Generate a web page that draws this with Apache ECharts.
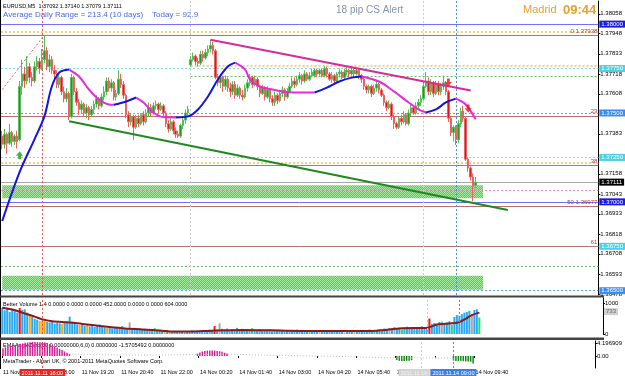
<!DOCTYPE html>
<html>
<head>
<meta charset="utf-8">
<script src="https://cdn.jsdelivr.net/npm/echarts@6/dist/echarts.min.js"></script>
<style>
html, body { margin: 0; padding: 0; background: #fff; }
#main { width: 625px; height: 376px; }
</style>
</head>
<body>
<div id="main"></div>
<script>
var chart = echarts.init(document.getElementById('main'));
var FONT = '"Liberation Sans", Arial, sans-serif';

// time axis: one label every 16 M5 bars
var timeLabels = ['11 Nov 16:40', '11 Nov 18:00', '11 Nov 19:20', '11 Nov 20:40', '11 Nov 22:00',
    '14 Nov 00:20', '14 Nov 01:40', '14 Nov 03:00', '14 Nov 04:20', '14 Nov 05:40',
    '14 Nov 07:00', '14 Nov 08:20', '14 Nov 09:40'];
var barsPerLabel = 16;
var totalSlots = 241;   // bars + empty chart shift on the right

// [open, close, low, high]
var candles = [
    [1.37369,1.37324,1.37296,1.37400],[1.37324,1.37380,1.37300,1.37410],[1.37380,1.37330,1.37270,1.37390],
    [1.37330,1.37390,1.37320,1.37440],[1.37390,1.37340,1.37310,1.37400],[1.37340,1.37370,1.37320,1.37380],
    [1.37370,1.37340,1.37300,1.37400],[1.37350,1.37650,1.37340,1.37680],[1.37650,1.37720,1.37600,1.37800],
    [1.37720,1.37680,1.37640,1.37760],[1.37680,1.37760,1.37660,1.37820],[1.37760,1.37700,1.37670,1.37780],
    [1.37700,1.37680,1.37650,1.37730],[1.37680,1.37760,1.37670,1.37790],[1.37760,1.37790,1.37740,1.37820],
    [1.37790,1.37750,1.37720,1.37810],[1.37750,1.37800,1.37740,1.37860],[1.37800,1.37850,1.37780,1.37938],
    [1.37850,1.37760,1.37740,1.37870],[1.37760,1.37800,1.37730,1.37830],[1.37800,1.37740,1.37720,1.37820],
    [1.37740,1.37720,1.37690,1.37770],[1.37720,1.37660,1.37640,1.37740],[1.37660,1.37700,1.37640,1.37720],
    [1.37700,1.37620,1.37600,1.37710],[1.37620,1.37580,1.37560,1.37650],[1.37580,1.37610,1.37560,1.37640],
    [1.37610,1.37480,1.37460,1.37620],[1.37480,1.37700,1.37470,1.37720],[1.37700,1.37620,1.37600,1.37710],
    [1.37620,1.37560,1.37540,1.37640],[1.37560,1.37520,1.37490,1.37580],[1.37520,1.37550,1.37500,1.37570],
    [1.37550,1.37500,1.37480,1.37560],[1.37500,1.37530,1.37470,1.37550],[1.37530,1.37490,1.37460,1.37540],
    [1.37490,1.37520,1.37480,1.37540],[1.37520,1.37550,1.37500,1.37570],[1.37550,1.37580,1.37530,1.37600],
    [1.37580,1.37540,1.37520,1.37590],[1.37540,1.37590,1.37530,1.37610],[1.37590,1.37620,1.37570,1.37650],
    [1.37620,1.37680,1.37600,1.37700],[1.37680,1.37640,1.37620,1.37700],[1.37640,1.37670,1.37620,1.37690],
    [1.37670,1.37590,1.37570,1.37680],[1.37590,1.37610,1.37570,1.37630],[1.37610,1.37690,1.37600,1.37740],
    [1.37690,1.37660,1.37640,1.37720],[1.37660,1.37600,1.37580,1.37680],[1.37600,1.37490,1.37470,1.37610],
    [1.37490,1.37450,1.37420,1.37510],[1.37450,1.37480,1.37430,1.37500],[1.37480,1.37420,1.37350,1.37490],
    [1.37420,1.37470,1.37410,1.37490],[1.37470,1.37440,1.37420,1.37490],[1.37440,1.37490,1.37430,1.37500],
    [1.37490,1.37450,1.37430,1.37510],[1.37450,1.37500,1.37440,1.37520],[1.37500,1.37530,1.37480,1.37560],
    [1.37530,1.37500,1.37480,1.37550],[1.37500,1.37540,1.37490,1.37560],[1.37540,1.37550,1.37520,1.37570],
    [1.37550,1.37520,1.37500,1.37560],[1.37520,1.37540,1.37510,1.37560],[1.37540,1.37500,1.37480,1.37550],
    [1.37500,1.37440,1.37420,1.37510],[1.37440,1.37410,1.37390,1.37460],[1.37410,1.37450,1.37400,1.37470],
    [1.37450,1.37400,1.37380,1.37460],[1.37400,1.37380,1.37360,1.37420],[1.37380,1.37370,1.37360,1.37400],
    [1.37370,1.37430,1.37360,1.37440],[1.37430,1.37460,1.37410,1.37480],[1.37460,1.37500,1.37440,1.37520],
    [1.37500,1.37520,1.37480,1.37540],
    // Monday open
    [1.37770,1.37800,1.37760,1.37820],[1.37800,1.37820,1.37790,1.37840],[1.37820,1.37790,1.37770,1.37830],
    [1.37790,1.37780,1.37760,1.37810],[1.37780,1.37830,1.37770,1.37850],[1.37830,1.37810,1.37790,1.37850],
    [1.37810,1.37840,1.37800,1.37860],[1.37840,1.37860,1.37820,1.37880],[1.37860,1.37880,1.37840,1.37910],
    [1.37880,1.37850,1.37830,1.37900],[1.37850,1.37700,1.37690,1.37860],[1.37700,1.37670,1.37650,1.37720],
    [1.37670,1.37700,1.37640,1.37720],[1.37700,1.37650,1.37620,1.37710],[1.37650,1.37690,1.37630,1.37710],
    [1.37690,1.37640,1.37620,1.37700],[1.37640,1.37620,1.37590,1.37670],[1.37620,1.37660,1.37600,1.37680],
    [1.37660,1.37600,1.37580,1.37680],[1.37600,1.37640,1.37590,1.37660],[1.37640,1.37600,1.37580,1.37650],
    [1.37600,1.37590,1.37570,1.37630],[1.37590,1.37640,1.37580,1.37660],[1.37640,1.37670,1.37620,1.37690],
    [1.37670,1.37700,1.37650,1.37720],[1.37700,1.37660,1.37640,1.37710],[1.37660,1.37690,1.37650,1.37710],
    [1.37690,1.37650,1.37630,1.37700],[1.37650,1.37610,1.37590,1.37660],[1.37610,1.37640,1.37600,1.37660],
    [1.37640,1.37590,1.37570,1.37650],[1.37590,1.37630,1.37580,1.37650],[1.37630,1.37580,1.37560,1.37640],
    [1.37580,1.37560,1.37540,1.37600],[1.37560,1.37600,1.37540,1.37620],[1.37600,1.37570,1.37550,1.37610],
    [1.37570,1.37610,1.37560,1.37630],[1.37610,1.37630,1.37590,1.37650],[1.37630,1.37590,1.37570,1.37640],
    [1.37590,1.37620,1.37580,1.37640],[1.37620,1.37650,1.37610,1.37670],[1.37650,1.37680,1.37640,1.37700],
    [1.37680,1.37660,1.37640,1.37700],[1.37660,1.37690,1.37650,1.37710],[1.37690,1.37710,1.37670,1.37730],
    [1.37710,1.37680,1.37660,1.37720],[1.37680,1.37720,1.37670,1.37740],[1.37720,1.37690,1.37680,1.37730],
    [1.37690,1.37710,1.37680,1.37730],[1.37710,1.37730,1.37700,1.37750],[1.37710,1.37740,1.37700,1.37750],
    [1.37740,1.37720,1.37700,1.37750],[1.37720,1.37740,1.37710,1.37750],[1.37740,1.37710,1.37700,1.37750],
    [1.37710,1.37750,1.37700,1.37765],[1.37750,1.37720,1.37700,1.37760],[1.37720,1.37690,1.37680,1.37730],
    [1.37690,1.37710,1.37670,1.37730],[1.37710,1.37680,1.37660,1.37720],[1.37680,1.37720,1.37670,1.37730],
    [1.37720,1.37730,1.37700,1.37750],[1.37730,1.37700,1.37690,1.37740],[1.37700,1.37730,1.37690,1.37750],
    [1.37730,1.37740,1.37710,1.37760],[1.37740,1.37720,1.37700,1.37750],[1.37720,1.37740,1.37710,1.37760],
    [1.37740,1.37720,1.37700,1.37750],[1.37720,1.37740,1.37710,1.37750],[1.37740,1.37710,1.37690,1.37750],
    [1.37710,1.37690,1.37670,1.37720],[1.37690,1.37650,1.37630,1.37700],[1.37650,1.37630,1.37610,1.37660],
    [1.37630,1.37650,1.37610,1.37660],[1.37650,1.37610,1.37590,1.37660],[1.37610,1.37640,1.37600,1.37660],
    [1.37640,1.37660,1.37620,1.37680],[1.37660,1.37630,1.37610,1.37670],[1.37630,1.37600,1.37590,1.37640],
    [1.37600,1.37560,1.37540,1.37610],[1.37560,1.37530,1.37510,1.37570],[1.37530,1.37550,1.37520,1.37570],
    [1.37550,1.37480,1.37460,1.37560],[1.37480,1.37440,1.37410,1.37490],[1.37440,1.37420,1.37408,1.37450],
    [1.37420,1.37470,1.37410,1.37480],[1.37470,1.37450,1.37430,1.37490],[1.37450,1.37490,1.37440,1.37510],
    [1.37490,1.37440,1.37430,1.37500],[1.37440,1.37500,1.37430,1.37520],[1.37500,1.37530,1.37480,1.37550],
    [1.37530,1.37500,1.37490,1.37540],[1.37500,1.37540,1.37490,1.37560],[1.37540,1.37560,1.37520,1.37580],
    [1.37560,1.37580,1.37540,1.37600],[1.37580,1.37650,1.37570,1.37680],[1.37650,1.37680,1.37640,1.37730],
    [1.37680,1.37620,1.37600,1.37700],[1.37620,1.37670,1.37600,1.37690],[1.37670,1.37610,1.37590,1.37680],
    [1.37610,1.37660,1.37600,1.37680],[1.37660,1.37620,1.37600,1.37680],[1.37620,1.37650,1.37600,1.37670],
    [1.37650,1.37670,1.37630,1.37710],[1.37670,1.37620,1.37600,1.37680],[1.37620,1.37470,1.37450,1.37630],
    [1.37470,1.37390,1.37370,1.37480],[1.37390,1.37420,1.37340,1.37430],[1.37420,1.37350,1.37320,1.37430],
    [1.37350,1.37440,1.37330,1.37460],[1.37440,1.37510,1.37420,1.37530],[1.37510,1.37470,1.37450,1.37540],
    [1.37470,1.37240,1.37230,1.37480],[1.37240,1.37190,1.37170,1.37250],[1.37190,1.37140,1.37120,1.37200],
    [1.37140,1.37092,1.37004,1.37160],[1.37092,1.37111,1.37079,1.37140]
];

// smoothed MA: [bar, price]
var maPoints = [[0,1.36892],[7,1.37167],[13,1.37352],[17,1.37481],[20,1.37649],[23,1.37727],[27,1.37744],
    [31,1.37705],[35,1.37632],[39,1.37576],[43,1.37548],[45,1.37546],[50,1.37565],[54,1.37587],
    [57,1.37559],[61,1.37503],[65,1.37477],[70,1.37475],[75,1.37481],[79,1.37520],[83,1.37593],
    [87,1.37688],[91,1.37761],[94,1.37783],[98,1.37744],[100,1.37688],[104,1.37649],[109,1.37632],
    [116,1.37617],[126,1.37615],[131,1.37643],[136,1.37677],[141,1.37699],[145,1.37705],[152,1.37677],
    [157,1.37632],[164,1.37559],[168,1.37520],[171,1.37503],[175,1.37520],[179,1.37559],[183,1.37581],
    [187,1.37548],[191,1.37464]];

var priceTicks = [1.38058, 1.37948, 1.37833, 1.37718, 1.37608, 1.37383, 1.37158, 1.37043,
    1.36933, 1.36818, 1.36708, 1.36593, 1.36478];
var bidPrice = 1.37111;
var bigRoundLevels = [1.38000, 1.37000];
var halfRoundLevels = [1.37500, 1.36500];
var quarterLevels = [1.37750, 1.37250, 1.36750];
var fibLevels = [['0', 1.37938], ['23', 1.37484], ['38', 1.37204], ['50', 1.36977], ['61', 1.36750]];
var orangeLevels = [1.37955, 1.37222];
var mondayOrangeLevel = 1.37768;
var mondayGreenLevel = 1.37708;
var pinkLevel = 1.37066;
var greenLevel = 1.36640;
var zones = [[1.37094, 1.37021], [1.36584, 1.36506]];
var zoneEndBar = 194;
var mondayBar = 76;
var resistanceLine = [[84, 1.37912], [189, 1.37626]];
var supportLine = [[27, 1.37453], [204, 1.36954]];
var fibDiagonal = [[0, 1.37632], [17, 1.37938]];
var upArrows = [[7, 1.37262]];
var downArrows = [[180, 1.37672], [188, 1.37525]];

// volume panel
var volumes = [860,780,840,720,800,760,700,850,790,810, 700,640,560,500,470,430,440,500,400,380,
    420,340,370,350,330,390,360,570,400,360, 310,290,330,270,300,250,280,230,260,310,
    240,220,200,250,180,210,230,190,260,200, 170,380,160,200,150,180,140,170,130,150,
    120,190,110,140,100,80,130,70,60,90, 70,60,80,50,70,60,120,90,100,80,
    110,130,90,150,120,260,140,350,170,150, 180,130,160,120,200,140,170,110,150,130,
    190,140,120,160,100,130,110,150,90,120, 100,140,110,90,130,80,120,100,140,110,
    90,120,80,110,130,100,90,60,110,80, 100,70,120,90,80,110,70,50,90,100,
    80,60,110,90,100,120,90,150,110,130, 140,160,120,180,150,200,170,230,190,210,
    150,200,240,190,220,180,230,200,250,220, 240,510,330,360,300,390,410,340,380,420,
    300,560,620,600,650,700,720,760,640,790, 810,540];
// b normal, o low, r climax, g churn, w neutral
var volumeKinds =
    'bbbbbbbrbb' + 'bobbbooobb' + 'bbbbobbbbb' + 'bobbobbbbb' + 'bbobbbbbbb' +
    'bwbbbbbbbb' + 'bgbbbobobb' + 'bbbbbbbbbb' + 'bbbbbrbwbb' + 'bbbbbbbbbb' +
    'gbbbbbbbbb' + 'bbbbbbbbbb' + 'bbbgbbbobb' + 'bbbbbbbobb' + 'bobbbbbbbg' +
    'bbbbbwbwbb' + 'gbbbbbbbbb' + 'brbbbbwbbb' + 'gbbbbbbbwb' + 'bg';
var volumeAvg = [[0,860],[4,800],[8,700],[13,570],[16,480],[20,420],[27,380],[32,330],[40,255],
    [48,190],[56,150],[64,110],[68,80],[76,85],[84,110],[96,130],[108,120],[120,100],[136,95],
    [150,110],[160,190],[170,200],[174,310],[180,350],[183,390],[186,520],[188,620],[191,700]];
var volumeTicks = [0, 1000];
var volumeLast = 733;

// EMA angle oscillator: [bar, value]
var oscBars = [[0,2.6],[1,2.9],[2,3.1],[3,3.3],[4,3.5],[5,3.7],[6,3.9],[7,4.1],[8,4.2],[9,4.4],
    [10,4.5],[11,4.6],[12,4.7],[13,4.7],[14,4.7],[15,4.6],[16,4.6],[17,4.5],[18,4.3],[19,4.0],
    [20,3.6],[21,3.2],[22,2.8],[23,2.4],[24,2.0],[25,1.5],[26,1.1],[27,0.7],
    [79,0.8],[80,1.2],[81,1.5],[82,1.7],[83,1.8],[84,1.8],[85,1.8],[86,1.8],[87,1.7],[88,1.6],
    [89,1.4],[90,1.1],[91,0.8],
    [160,-1.3],[161,-1.6],[162,-1.7],[163,-1.7],[164,-1.6],[165,-1.6],[166,-1.4],
    [183,-1.5],[184,-1.7],[185,-1.7],[186,-1.6],[187,-1.7],[188,-1.8],[189,-1.8],[190,-1.9],[191,-2.5]];
var oscFlat = [[28,0.6],[45,0.4],[60,0.3],[78,0.5],[92,0.6],[105,0.3],[120,0.1],[140,-0.2],
    [159,-0.6],[167,-0.6],[182,-0.7]];
var oscTicks = [4.196909, 0, -1.85357];

// vertical markers
var redMarkBar = 16, grayMarkBar = 170, blueMarkBar = 183;

var categories = [];
for (var i = 0; i < totalSlots; i++) {
    categories.push(i % barsPerLabel === 0 && timeLabels[i / barsPerLabel] ? timeLabels[i / barsPerLabel] : 'b' + i);
}
function isLabel(index) {
    return index % barsPerLabel === 0 && index / barsPerLabel < timeLabels.length;
}

function hatch() {
    var c = document.createElement('canvas');
    c.width = 4; c.height = 4;
    var g = c.getContext('2d');
    g.fillStyle = '#a6eca0';
    g.fillRect(0, 0, 4, 4);
    g.fillStyle = '#48d448';
    for (var k = 0; k < 4; k++) { g.fillRect(k, 3 - k, 1, 1); g.fillRect((k + 2) % 4, 3 - k, 1, 1); }
    return { image: c, repeat: 'repeat' };
}

function boxLabel(v, bg, fg) {
    return { show: true, position: 'end', distance: 1, formatter: v.toFixed(5), backgroundColor: bg,
        color: fg || '#fff', fontSize: 6, fontFamily: FONT, padding: [1, 2, 0, 2], lineHeight: 6 };
}

var hLines = [];
bigRoundLevels.forEach(function (v) {
    hLines.push({ yAxis: v, lineStyle: { color: '#7070ff', type: 'solid', width: 1 }, label: boxLabel(v, '#1a1ae6') });
});
halfRoundLevels.forEach(function (v) {
    hLines.push({ yAxis: v, lineStyle: { color: '#58a4f0', type: [2, 2], width: 1 }, label: boxLabel(v, '#3a8ef0') });
});
quarterLevels.forEach(function (v) {
    hLines.push({ yAxis: v, lineStyle: { color: '#84d8ec', type: [2, 2], width: 1 }, label: boxLabel(v, '#4cd0e4') });
});
orangeLevels.forEach(function (v) {
    hLines.push({ yAxis: v, lineStyle: { color: '#f6ba66', type: [2, 2], width: 1.5 }, label: { show: false } });
});
fibLevels.forEach(function (f) {
    hLines.push({ yAxis: f[1], lineStyle: { color: '#b87070', type: 'solid', width: 1 },
        label: { show: true, position: 'insideEndTop', distance: 1, formatter: (f[0] === '0' || f[0] === '50') ? f[0] + ' ' + f[1].toFixed(5) : f[0],
            color: '#b03a3a', fontSize: 6, fontFamily: FONT } });
});
hLines.push({ yAxis: pinkLevel, lineStyle: { color: '#f08ad8', type: [2, 2], width: 1 }, label: { show: false } });
hLines.push({ yAxis: greenLevel, lineStyle: { color: '#6cb86c', type: [2, 2], width: 1 }, label: { show: false } });
hLines.push({ yAxis: bidPrice, lineStyle: { color: '#a8a8a8', type: 'solid', width: 1 }, label: boxLabel(bidPrice, '#000') });
hLines.push([{ coord: [mondayBar, mondayOrangeLevel], lineStyle: { color: '#f6ba66', type: [2, 2], width: 1.5 }, label: { show: false } },
    { coord: [totalSlots - 1, mondayOrangeLevel] }]);
hLines.push([{ coord: [mondayBar, mondayGreenLevel], lineStyle: { color: '#6cb86c', type: [2, 2], width: 1 }, label: { show: false } },
    { coord: [totalSlots - 1, mondayGreenLevel] }]);
hLines.push({ xAxis: redMarkBar, lineStyle: { color: '#f05050', type: [2, 2], width: 1 }, label: { show: false } });
hLines.push({ xAxis: mondayBar, lineStyle: { color: '#c8c8c8', type: [2, 2], width: 1 }, label: { show: false } });
hLines.push({ xAxis: grayMarkBar, lineStyle: { color: '#cccccc', type: [2, 2], width: 1 }, label: { show: false } });
hLines.push({ xAxis: blueMarkBar, lineStyle: { color: '#4a90e0', type: [2, 2], width: 1 }, label: { show: false } });

var zoneAreas = zones.map(function (z) {
    return [{ coord: [0, z[0]] }, { coord: [zoneEndBar, z[1]] }];
});

function vMarks(withLabels) {
    function lab(text, bg, fg) {
        return withLabels ? { show: true, position: 'start', distance: 1, formatter: text, backgroundColor: bg, color: fg,
            fontSize: 5.5, fontFamily: FONT, padding: [1, 2, 0, 2], lineHeight: 6 } : { show: false };
    }
    return {
        silent: true, symbol: ['none', 'none'], animation: false,
        data: [
            { xAxis: redMarkBar, lineStyle: { color: '#f05050', type: [2, 2], width: 1 }, label: lab('2011.11.11 18:00', '#f42020', '#fff') },
            { xAxis: grayMarkBar, lineStyle: { color: '#cccccc', type: [2, 2], width: 1 }, label: lab('2011.11.14 07:50', '#d4d4d4', '#f4f4f4') },
            { xAxis: blueMarkBar, lineStyle: { color: '#4a90e0', type: [2, 2], width: 1 }, label: lab('2011.11.14 09:00', '#3a80e8', '#fff') }
        ]
    };
}

// moving average split into rising (blue) and falling (magenta) runs
var maSeries = [];
var run = null;
for (var k = 1; k < maPoints.length; k++) {
    var up = maPoints[k][1] >= maPoints[k - 1][1];
    if (!run || run.up !== up) { run = { up: up, pts: [maPoints[k - 1]] }; maSeries.push(run); }
    run.pts.push(maPoints[k]);
}
maSeries = maSeries.map(function (r) {
    return { type: 'line', xAxisIndex: 0, yAxisIndex: 0, data: r.pts, smooth: 0.35, showSymbol: false, silent: true,
        lineStyle: { color: r.up ? '#1414e0' : '#e62ad6', width: 2 }, z: 4 };
});

function trend(points, color, width, type) {
    return { type: 'line', xAxisIndex: 0, yAxisIndex: 0, data: points, showSymbol: false, silent: true,
        lineStyle: { color: color, width: width, type: type || 'solid' }, z: 5 };
}

var volColor = { b: '#2aaaf4', o: '#ffa500', r: '#f01414', g: '#22dd66', w: '#a8a8a8' };

var xAxisBase = { type: 'category', data: categories, boundaryGap: true,
    axisLine: { show: false }, axisTick: { show: false }, axisLabel: { show: false }, splitLine: { show: false } };

var option = {
    animation: false,
    backgroundColor: '#fff',
    textStyle: { fontFamily: FONT },
    grid: [
        { left: 1, right: 22, top: 1, height: 294 },
        { left: 1, right: 22, top: 298, height: 36 },
        { left: 1, right: 22, top: 341, height: 27 }
    ],
    xAxis: [
        Object.assign({ gridIndex: 0 }, xAxisBase),
        Object.assign({ gridIndex: 1 }, xAxisBase),
        Object.assign({}, xAxisBase, { gridIndex: 2,
            axisTick: { show: true, interval: function (idx) { return isLabel(idx); }, length: 2, lineStyle: { color: '#000' } },
            axisLabel: { show: true, interval: function (idx) { return isLabel(idx); }, align: 'left', margin: 1,
                fontSize: 5.5, color: '#000', fontFamily: FONT } })
    ],
    yAxis: [
        { gridIndex: 0, type: 'value', position: 'right', min: 1.36476, max: 1.38130,
            axisLine: { show: true, lineStyle: { color: '#000' } },
            axisTick: { show: true, length: 2, customValues: priceTicks, lineStyle: { color: '#000' } },
            axisLabel: { customValues: priceTicks, fontSize: 6, color: '#000', margin: 2, fontFamily: FONT,
                formatter: function (v) { return v.toFixed(5); } },
            splitLine: { show: false } },
        { gridIndex: 1, type: 'value', position: 'right', min: 0, max: 1180,
            axisLine: { show: true, lineStyle: { color: '#000' } },
            axisTick: { show: true, length: 2, customValues: volumeTicks, lineStyle: { color: '#000' } },
            axisLabel: { customValues: volumeTicks, fontSize: 6, color: '#000', margin: 2, fontFamily: FONT,
                formatter: function (v) { return String(v); } },
            splitLine: { show: false } },
        { gridIndex: 2, type: 'value', position: 'right', min: -4, max: 5,
            axisLine: { show: true, lineStyle: { color: '#000' } },
            axisTick: { show: true, length: 2, customValues: oscTicks, lineStyle: { color: '#000' } },
            axisLabel: { customValues: oscTicks, fontSize: 6, color: '#000', margin: 2, fontFamily: FONT,
                formatter: function (v) { return v === 0 ? '0.00' : String(v); } },
            splitLine: { show: false } }
    ],
    series: [
        { type: 'candlestick', xAxisIndex: 0, yAxisIndex: 0, data: candles, barWidth: 2, z: 3,
            itemStyle: { color: '#18a018', color0: '#e81414', borderColor: '#58bc58', borderColor0: '#ee6060', borderWidth: 1 },
            markLine: { silent: true, symbol: ['none', 'none'], precision: 5, data: hLines, z: 1 },
            markArea: { silent: true, itemStyle: { color: hatch() }, data: zoneAreas }
        },
        trend(resistanceLine, '#d82a98', 2),
        trend(supportLine, '#1e8a1e', 2),
        trend(fibDiagonal, '#f06060', 1, [2, 2]),
        { type: 'scatter', xAxisIndex: 0, yAxisIndex: 0, data: downArrows, silent: true, z: 6,
            symbol: 'path://M3,0 L7,0 L7,5 L10,5 L5,11 L0,5 L3,5 Z', symbolSize: [7, 8], itemStyle: { color: '#f01010' } },
        { type: 'scatter', xAxisIndex: 0, yAxisIndex: 0, data: upArrows, silent: true, z: 6,
            symbol: 'path://M5,0 L10,6 L7,6 L7,11 L3,11 L3,6 L0,6 Z', symbolSize: [7, 8], itemStyle: { color: '#10a010' } },
        { type: 'bar', xAxisIndex: 1, yAxisIndex: 1, barWidth: 2, silent: true,
            data: volumes.map(function (v, i) { return { value: v, itemStyle: { color: volColor[volumeKinds.charAt(i)] || volColor.b } }; }),
            markLine: vMarks(false) },
        { type: 'line', xAxisIndex: 1, yAxisIndex: 1, data: volumeAvg, smooth: 0.3, showSymbol: false, silent: true,
            lineStyle: { color: '#8b1a1a', width: 2 },
            markLine: { silent: true, symbol: ['none', 'none'],
                data: [{ yAxis: volumeLast, lineStyle: { color: 'transparent' },
                    label: { show: true, position: 'end', distance: 1, formatter: String(volumeLast), backgroundColor: '#d0d0d0',
                        color: '#666', fontSize: 6, fontFamily: FONT, padding: [1, 2, 0, 2], lineHeight: 6 } }] } },
        { type: 'bar', xAxisIndex: 2, yAxisIndex: 2, barWidth: 1.5, silent: true,
            data: oscBars.map(function (p) { return { value: p, itemStyle: { color: p[1] >= 0 ? '#d8209c' : '#108a10' } }; }),
            markLine: vMarks(true) },
        { type: 'line', xAxisIndex: 2, yAxisIndex: 2, data: oscFlat, smooth: 0.3, showSymbol: false, silent: true,
            lineStyle: { color: '#c0c0c0', width: 1, type: [1, 2] } }
    ].concat(maSeries),
    graphic: [
        { type: 'rect', shape: { x: 0, y: 0, width: 1, height: 369 }, style: { fill: '#000' }, silent: true },
        { type: 'rect', shape: { x: 0, y: 295.5, width: 604, height: 2 }, style: { fill: '#444' }, silent: true },
        { type: 'rect', shape: { x: 0, y: 337.5, width: 604, height: 2.5 }, style: { fill: '#444' }, silent: true },
        { type: 'text', x: 3, y: 6, style: { text: 'EURUSD,M5  1.37092 1.37140 1.37079 1.37111', fontSize: 5.5, fontFamily: FONT, fill: '#000', verticalAlign: 'middle' } },
        { type: 'text', x: 3, y: 14.5, style: { text: 'Average Daily Range = 213.4 (10 days)    Today = 92.9', fontSize: 8, fontFamily: FONT, fill: '#4a66f4', verticalAlign: 'middle' } },
        { type: 'text', x: 336, y: 10, style: { text: '18 pip CS Alert', fontSize: 10, fontFamily: FONT, fill: '#8494a6', verticalAlign: 'middle' } },
        { type: 'text', x: 523, y: 10, style: { text: 'Madrid', fontSize: 11, fontFamily: FONT, fill: '#e8a030', verticalAlign: 'middle' } },
        { type: 'text', x: 563, y: 10, style: { text: '09:44', fontSize: 13, fontWeight: 'bold', fontFamily: FONT, fill: '#e8a030', verticalAlign: 'middle' } },
        { type: 'text', x: 3, y: 304, style: { text: 'Better Volume 1.4 0.0000 0.0000 0.0000 452.0000 0.0000 0.0000 604.0000', fontSize: 5.5, fontFamily: FONT, fill: '#000', verticalAlign: 'middle' } },
        { type: 'text', x: 3, y: 345.5, style: { text: 'EMAAngleZero(30,0.00000000,6,0) 0.0000000 -1.5705492 0.0000000', fontSize: 5.5, fontFamily: FONT, fill: '#000', verticalAlign: 'middle' } },
        { type: 'text', x: 3, y: 361, style: { text: 'MetaTrader - Alpari UK, \u00a9 2001-2011 MetaQuotes Software Corp.', fontSize: 5.5, fontFamily: FONT, fill: '#000', verticalAlign: 'middle' } }
    ]
};
chart.setOption(option);
</script>
</body>
</html>
